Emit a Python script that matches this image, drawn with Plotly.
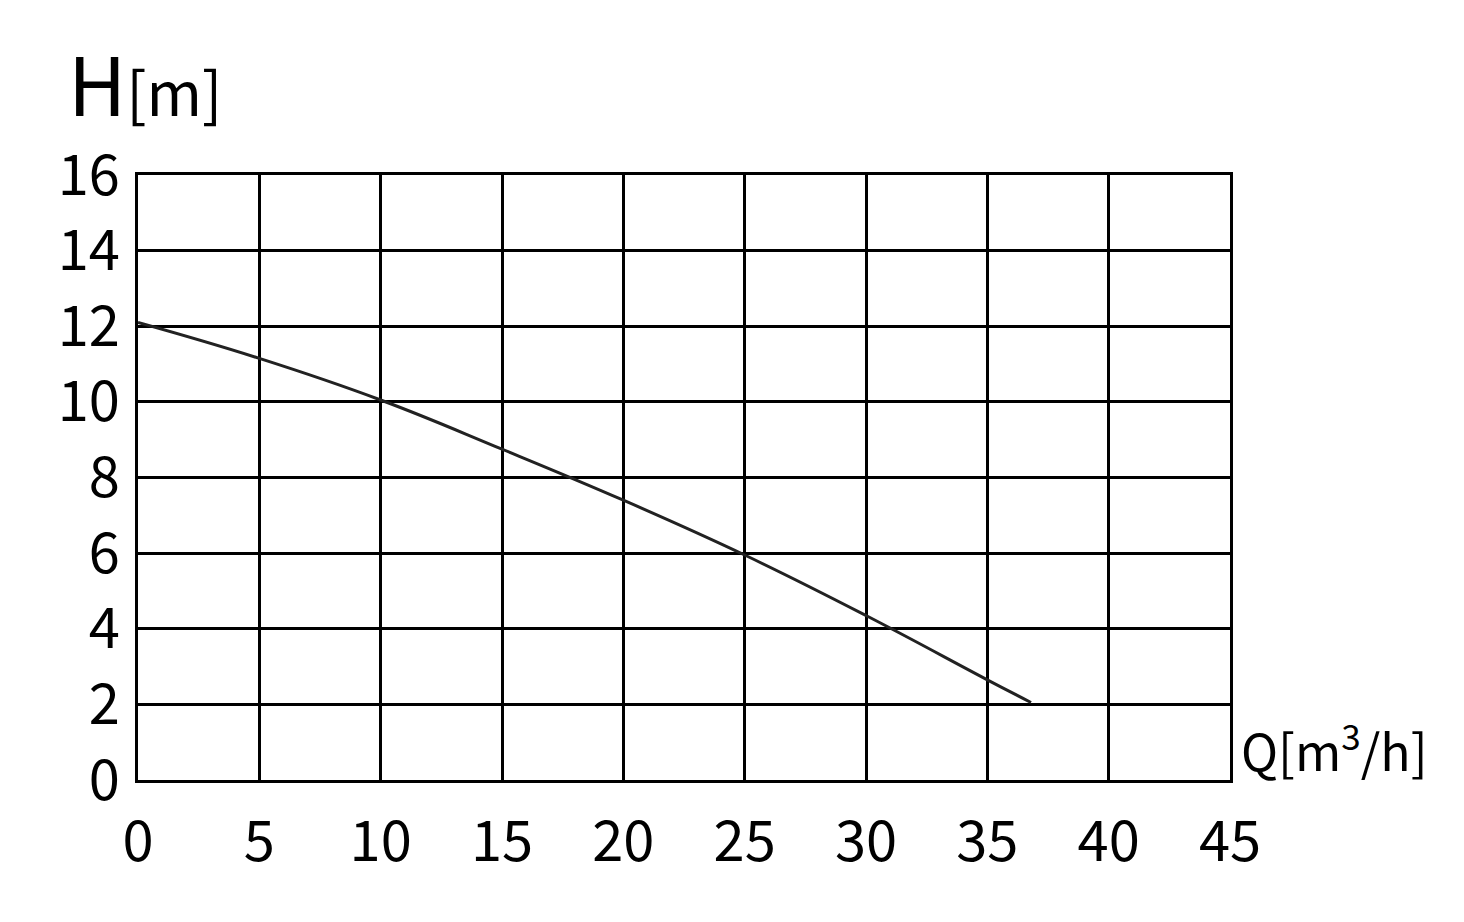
import plotly.graph_objects as go

# Pump curve data
flow_q = [0, 5, 10, 15, 20, 25, 30, 35, 36.8]
head_h = [12.1, 11.15, 10.05, 8.75, 7.4, 5.95, 4.35, 2.65, 2.05]

x_ticks = [0, 5, 10, 15, 20, 25, 30, 35, 40, 45]
y_ticks = [0, 2, 4, 6, 8, 10, 12, 14, 16]

FONT = "Noto Sans CJK JP"

fig = go.Figure()
fig.add_trace(go.Scatter(
    x=flow_q, y=head_h, mode="lines",
    line=dict(color="#222222", width=3, shape="spline", smoothing=1.2),
    showlegend=False, hoverinfo="skip",
))

fig.update_layout(
    width=1464, height=922,
    margin=dict(l=130, r=242, t=167, b=150),
    paper_bgcolor="white", plot_bgcolor="white",
    font=dict(family=FONT, color="black", size=56),
    xaxis=dict(
        range=[0, 45], tickvals=x_ticks, ticktext=[str(v) for v in x_ticks],
        showgrid=True, gridcolor="black", gridwidth=2.5,
        zeroline=False, showline=True, linecolor="black", linewidth=3, mirror=True,
        ticks="", ticklabelstandoff=11, tickfont=dict(size=56, family=FONT),
    ),
    yaxis=dict(
        range=[0, 16], tickvals=y_ticks, ticktext=[str(v) for v in y_ticks],
        showgrid=True, gridcolor="black", gridwidth=2.5,
        zeroline=False, showline=True, linecolor="black", linewidth=3, mirror=True,
        ticks="", ticklabelstandoff=4, tickfont=dict(size=56, family=FONT),
    ),
    annotations=[
        dict(text="<span style='font-size:80px'>H</span><span style='font-size:60px'>[m]</span>",
             xref="paper", yref="paper", x=-0.066, y=1.056, xanchor="left", yanchor="bottom",
             showarrow=False, font=dict(family=FONT, color="black")),
        dict(text="Q[m<sup>3</sup>/h]",
             xref="paper", yref="paper", x=1.008, y=-0.012, xanchor="left", yanchor="bottom",
             showarrow=False, font=dict(family=FONT, color="black", size=50)),
    ],
)

fig.write_html("out.html")
